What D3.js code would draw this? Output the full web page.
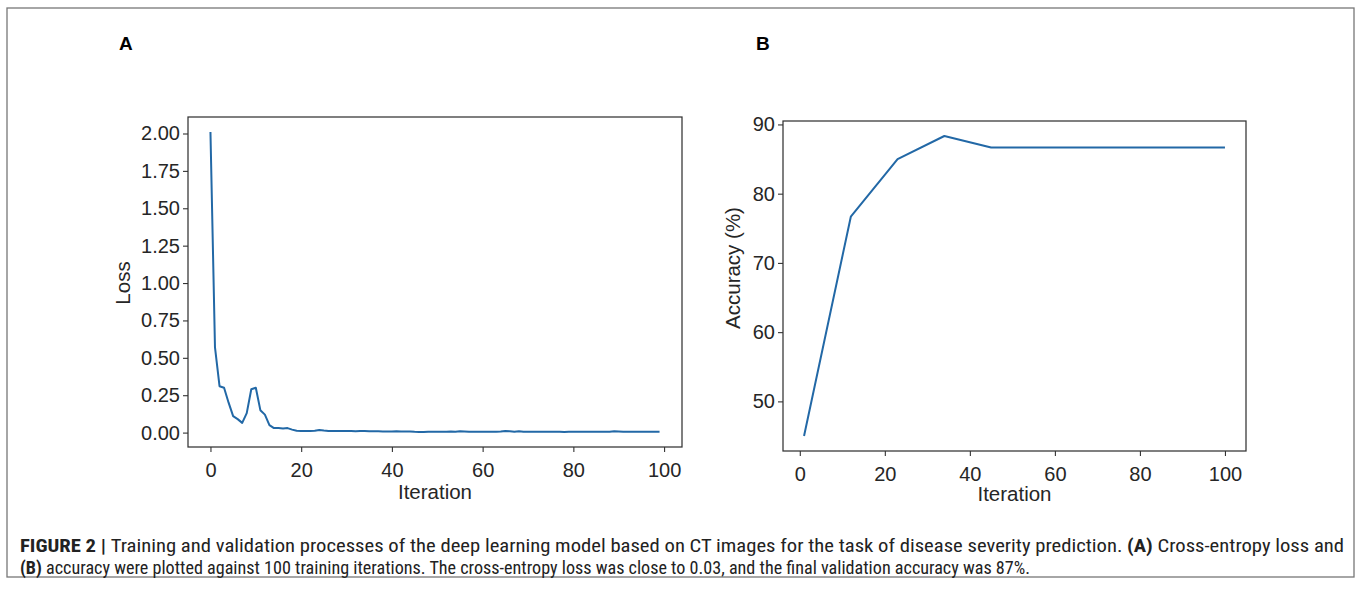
<!DOCTYPE html>
<html>
<head>
<meta charset="utf-8">
<script src="https://cdn.jsdelivr.net/npm/d3@7/dist/d3.min.js"></script>
<style>
  html, body { margin: 0; padding: 0; background: #fff; }
  svg { display: block; }
  .tick text { font-family: "Liberation Sans", Arial, sans-serif; font-size: 20px; fill: #262626; }
  .lbl { font-family: "Liberation Sans", Arial, sans-serif; font-size: 20.5px; fill: #262626; }
  .panel { font-family: "Liberation Sans", Arial, sans-serif; font-size: 19px; font-weight: bold; fill: #000; }
  .cap { font-family: "Liberation Sans Narrow", "Roboto Condensed", Roboto, "Liberation Sans", sans-serif; font-size: 18px; fill: #222; }
</style>
</head>
<body>
<svg id="chart" width="1357" height="591"></svg>
<script>
// ---- Data ----
const lossIterations = d3.range(0, 100);
const lossValues = [
  2.01, 0.57, 0.31, 0.30, 0.20, 0.11, 0.09, 0.065, 0.13, 0.29,
  0.30, 0.15, 0.12, 0.05, 0.03, 0.03, 0.028, 0.03, 0.02, 0.012,
  0.010, 0.010, 0.011, 0.012, 0.018, 0.014, 0.011, 0.010, 0.010, 0.010,
  0.010, 0.010, 0.009, 0.010, 0.010, 0.009, 0.009, 0.009, 0.008, 0.008,
  0.008, 0.009, 0.008, 0.007, 0.007, 0.005, 0.004, 0.004, 0.006, 0.005,
  0.005, 0.005, 0.006, 0.007, 0.006, 0.009, 0.007, 0.005, 0.005, 0.006,
  0.005, 0.005, 0.005, 0.005, 0.007, 0.010, 0.009, 0.006, 0.009, 0.005,
  0.005, 0.005, 0.005, 0.005, 0.005, 0.005, 0.005, 0.006, 0.004, 0.005,
  0.005, 0.005, 0.005, 0.005, 0.005, 0.005, 0.005, 0.005, 0.006, 0.009,
  0.007, 0.005, 0.005, 0.005, 0.005, 0.005, 0.005, 0.005, 0.005, 0.005
];
const accIterations = [1, 12, 23, 34, 45, 56, 67, 78, 89, 100];
const accValues = [45.0, 76.67, 85.0, 88.33, 86.67, 86.67, 86.67, 86.67, 86.67, 86.67];

const lossYTicks = [0, 0.25, 0.5, 0.75, 1.0, 1.25, 1.5, 1.75, 2.0];
const accYTicks = [50, 60, 70, 80, 90];
const xTicks = [0, 20, 40, 60, 80, 100];

const captionLine1 = [
  {t: "FIGURE 2 | ", b: true},
  {t: "Training and validation processes of the deep learning model based on CT images for the task of disease severity prediction. ", b: false},
  {t: "(A)", b: true},
  {t: " Cross-entropy loss and", b: false}
];
const captionLine2 = [
  {t: "(B)", b: true},
  {t: " accuracy were plotted against 100 training iterations. The cross-entropy loss was close to 0.03, and the final validation accuracy was 87%.", b: false}
];

// ---- Drawing ----
const svg = d3.select("#chart");
const lineColor = "#2268a6";
const spineColor = "#333";

svg.append("rect").attr("x", 7).attr("y", 8).attr("width", 1347).attr("height", 569)
  .attr("fill", "none").attr("stroke", "#777").attr("stroke-width", 1.3);

function padDomain(ext) {
  const r = ext[1] - ext[0];
  return [ext[0] - 0.05 * r, ext[1] + 0.05 * r];
}

function panel(opts) {
  const {left, right, top, bottom, xs, ys, yTicks, yFmt, ylabel, ylabelY, xTickPad, xLabelY, letter, letterX} = opts;
  const x = d3.scaleLinear().domain(padDomain(d3.extent(xs))).range([left, right]);
  const y = d3.scaleLinear().domain(padDomain(d3.extent(ys))).range([bottom, top]);
  const g = svg.append("g");

  g.append("rect").attr("x", left).attr("y", top).attr("width", right - left).attr("height", bottom - top)
    .attr("fill", "none").attr("stroke", spineColor).attr("stroke-width", 1.25);

  const xAxis = g.append("g").attr("transform", `translate(0,${bottom})`)
    .call(d3.axisBottom(x).tickValues(xTicks).tickFormat(d3.format("d")).tickSize(5).tickPadding(xTickPad));
  const yAxis = g.append("g").attr("transform", `translate(${left},0)`)
    .call(d3.axisLeft(y).tickValues(yTicks).tickFormat(yFmt).tickSize(5).tickPadding(3));
  [xAxis, yAxis].forEach(a => {
    a.select(".domain").remove();
    a.selectAll(".tick line").attr("stroke", spineColor).attr("stroke-width", 1.1);
  });

  const line = d3.line().x((d, i) => x(xs[i])).y(d => y(d));
  g.append("path").datum(ys).attr("d", line).attr("fill", "none")
    .attr("stroke", lineColor).attr("stroke-width", 2).attr("stroke-linejoin", "round");

  g.append("text").attr("class", "lbl").attr("text-anchor", "middle")
    .attr("x", (left + right) / 2).attr("y", xLabelY).text("Iteration");
  g.append("text").attr("class", "lbl").attr("text-anchor", "middle")
    .attr("transform", `translate(${opts.ylabelX},${ylabelY}) rotate(-90)`).text(ylabel);
  g.append("text").attr("class", "panel").attr("x", letterX).attr("y", 50).text(letter);
}

panel({left: 188, right: 682, top: 117, bottom: 447, xs: lossIterations, ys: lossValues,
  yTicks: lossYTicks, yFmt: d3.format(".2f"), ylabel: "Loss", ylabelX: 130, ylabelY: 283,
  xTickPad: 11, xLabelY: 499, letter: "A", letterX: 119});

panel({left: 783, right: 1246, top: 121, bottom: 451, xs: accIterations, ys: accValues,
  yTicks: accYTicks, yFmt: d3.format("d"), ylabel: "Accuracy (%)", ylabelX: 740, ylabelY: 268,
  xTickPad: 11, xLabelY: 501, letter: "B", letterX: 756});

function caption(parts, y, width) {
  const t = svg.append("text").attr("class", "cap").attr("x", 20).attr("y", y)
    .attr("textLength", width).attr("lengthAdjust", "spacingAndGlyphs");
  parts.forEach(p => t.append("tspan").attr("font-weight", p.b ? "bold" : "normal").text(p.t));
}
caption(captionLine1, 552, 1324);
caption(captionLine2, 574, 1010);
</script>
</body>
</html>
